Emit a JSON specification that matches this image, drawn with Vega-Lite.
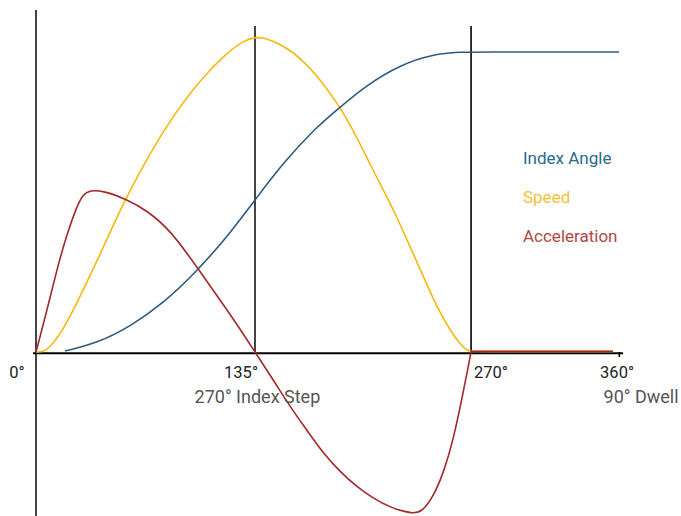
{
  "$schema": "https://vega.github.io/schema/vega-lite/v6.json",
  "width": 681,
  "height": 516,
  "autosize": "none",
  "padding": 0,
  "background": "white",
  "config": {"view": {"stroke": null}},
  "datasets": {
    "rules": [
      {"x": 0, "x2": 0, "y": 1.14, "y2": -0.5467, "c": "#444444", "w": 2},
      {"x": 135, "x2": 135, "y": 1.0867, "y2": 0, "c": "#444444", "w": 2},
      {"x": 268.2, "x2": 268.2, "y": 1.0867, "y2": 0, "c": "#000000", "w": 1.6},
      {"x": -1.85, "x2": 361.9, "y": -0.004, "y2": -0.004, "c": "#000000", "w": 2},
      {"x": 359.6, "x2": 359.6, "y": 0, "y2": -0.0167, "c": "#000000", "w": 1.6}
    ],
    "curves": [
      {"series": "Speed", "deg": 0, "v": 0},
      {"series": "Speed", "deg": 4.2, "v": 0.0},
      {"series": "Speed", "deg": 8.63, "v": 0.015},
      {"series": "Speed", "deg": 16.83, "v": 0.0733},
      {"series": "Speed", "deg": 27.12, "v": 0.1843},
      {"series": "Speed", "deg": 37.42, "v": 0.301},
      {"series": "Speed", "deg": 47.65, "v": 0.423},
      {"series": "Speed", "deg": 55.91, "v": 0.5177},
      {"series": "Speed", "deg": 70.28, "v": 0.6633},
      {"series": "Speed", "deg": 84.45, "v": 0.7867},
      {"series": "Speed", "deg": 101.1, "v": 0.9067},
      {"series": "Speed", "deg": 117.56, "v": 0.9967},
      {"series": "Speed", "deg": 128, "v": 1.038},
      {"series": "Speed", "deg": 135.0, "v": 1.0487},
      {"series": "Speed", "deg": 139.9, "v": 1.049},
      {"series": "Speed", "deg": 152.3, "v": 1.0233},
      {"series": "Speed", "deg": 164.6, "v": 0.9733},
      {"series": "Speed", "deg": 176.9, "v": 0.8967},
      {"series": "Speed", "deg": 187.4, "v": 0.8167},
      {"series": "Speed", "deg": 197.7, "v": 0.7177},
      {"series": "Speed", "deg": 207.7, "v": 0.6067},
      {"series": "Speed", "deg": 214.1, "v": 0.54},
      {"series": "Speed", "deg": 222.4, "v": 0.451},
      {"series": "Speed", "deg": 230.6, "v": 0.351},
      {"series": "Speed", "deg": 238.8, "v": 0.251},
      {"series": "Speed", "deg": 247.0, "v": 0.151},
      {"series": "Speed", "deg": 255.2, "v": 0.0733},
      {"series": "Speed", "deg": 261.4, "v": 0.026},
      {"series": "Speed", "deg": 266.0, "v": 0.004},
      {"series": "Speed", "deg": 268.2, "v": 0.002},
      {"series": "Speed", "deg": 268.21, "v": 0.002},
      {"series": "Speed", "deg": 355.7, "v": 0.002},
      {"series": "Index Angle", "deg": 17.88, "v": 0.0033},
      {"series": "Index Angle", "deg": 37.42, "v": 0.029},
      {"series": "Index Angle", "deg": 57.95, "v": 0.0843},
      {"series": "Index Angle", "deg": 78.47, "v": 0.1623},
      {"series": "Index Angle", "deg": 99.06, "v": 0.2677},
      {"series": "Index Angle", "deg": 119.59, "v": 0.3957},
      {"series": "Index Angle", "deg": 135.0, "v": 0.5067},
      {"series": "Index Angle", "deg": 152.26, "v": 0.63},
      {"series": "Index Angle", "deg": 173.04, "v": 0.751},
      {"series": "Index Angle", "deg": 187.4, "v": 0.8157},
      {"series": "Index Angle", "deg": 203.9, "v": 0.89},
      {"series": "Index Angle", "deg": 224.4, "v": 0.9567},
      {"series": "Index Angle", "deg": 244.7, "v": 0.9933},
      {"series": "Index Angle", "deg": 263.2, "v": 1.0},
      {"series": "Index Angle", "deg": 268.2, "v": 1.0},
      {"series": "Index Angle", "deg": 359.4, "v": 1.0},
      {"series": "Acceleration", "deg": 0, "v": 0},
      {"series": "Acceleration", "deg": 0.01, "v": 0},
      {"series": "Acceleration", "deg": 6.6, "v": 0.135},
      {"series": "Acceleration", "deg": 12.76, "v": 0.2733},
      {"series": "Acceleration", "deg": 18.93, "v": 0.39},
      {"series": "Acceleration", "deg": 25.09, "v": 0.4843},
      {"series": "Acceleration", "deg": 28.97, "v": 0.525},
      {"series": "Acceleration", "deg": 33.29, "v": 0.5393},
      {"series": "Acceleration", "deg": 41.49, "v": 0.5373},
      {"series": "Acceleration", "deg": 55.91, "v": 0.509},
      {"series": "Acceleration", "deg": 68.24, "v": 0.472},
      {"series": "Acceleration", "deg": 82.6, "v": 0.4077},
      {"series": "Acceleration", "deg": 99.06, "v": 0.2843},
      {"series": "Acceleration", "deg": 111.4, "v": 0.189},
      {"series": "Acceleration", "deg": 123.7, "v": 0.094},
      {"series": "Acceleration", "deg": 135.0, "v": 0},
      {"series": "Acceleration", "deg": 146.3, "v": -0.0933},
      {"series": "Acceleration", "deg": 156.6, "v": -0.1823},
      {"series": "Acceleration", "deg": 166.9, "v": -0.26},
      {"series": "Acceleration", "deg": 177.1, "v": -0.3377},
      {"series": "Acceleration", "deg": 187.4, "v": -0.399},
      {"series": "Acceleration", "deg": 197.7, "v": -0.449},
      {"series": "Acceleration", "deg": 207.9, "v": -0.4877},
      {"series": "Acceleration", "deg": 218.2, "v": -0.5187},
      {"series": "Acceleration", "deg": 232.6, "v": -0.5403},
      {"series": "Acceleration", "deg": 237.8, "v": -0.533},
      {"series": "Acceleration", "deg": 244.9, "v": -0.4823},
      {"series": "Acceleration", "deg": 251.1, "v": -0.4043},
      {"series": "Acceleration", "deg": 257.2, "v": -0.2933},
      {"series": "Acceleration", "deg": 262.4, "v": -0.16},
      {"series": "Acceleration", "deg": 266.5, "v": -0.049},
      {"series": "Acceleration", "deg": 268.19, "v": 0.002},
      {"series": "Acceleration", "deg": 268.2, "v": 0.002},
      {"series": "Acceleration", "deg": 268.21, "v": 0.002},
      {"series": "Acceleration", "deg": 355.7, "v": 0.002}
    ],
    "labels": [
      {"t": "0°", "x": -11.71, "y": -0.0867, "c": "#222222", "s": 16.5, "g": "tick"},
      {"t": "135°", "x": 126.4, "y": -0.0867, "c": "#222222", "s": 16.5, "g": "tick"},
      {"t": "270°", "x": 280.5, "y": -0.0867, "c": "#222222", "s": 16.5, "g": "tick"},
      {"t": "360°", "x": 358.2, "y": -0.0867, "c": "#222222", "s": 16.5, "g": "tick"},
      {"t": "270° Index Step", "x": 136.5, "y": -0.17, "c": "#555555", "s": 18, "g": "tick"},
      {"t": "90° Dwell", "x": 373.0, "y": -0.17, "c": "#555555", "s": 18, "g": "tick"},
      {"t": "Index Angle", "x": 300.2, "y": 0.625, "c": "#2a6a8c", "s": 17, "g": "legend"},
      {"t": "Speed", "x": 300.2, "y": 0.495, "c": "#f6c03a", "s": 17, "g": "legend"},
      {"t": "Acceleration", "x": 300.2, "y": 0.3667, "c": "#b04848", "s": 17, "g": "legend"}
    ]
  },
  "layer": [
    {
      "data": {"name": "rules"},
      "mark": {"type": "rule"},
      "encoding": {
        "x": {"field": "x", "type": "quantitative", "scale": {"domain": [-22.19, 397.61], "nice": false, "zero": false}, "axis": null},
        "x2": {"field": "x2"},
        "y": {"field": "y", "type": "quantitative", "scale": {"domain": [-0.5467, 1.1733], "nice": false, "zero": false}, "axis": null},
        "y2": {"field": "y2"},
        "color": {"field": "c", "type": "nominal", "scale": null, "legend": null},
        "strokeWidth": {"field": "w", "type": "quantitative", "scale": null, "legend": null}
      }
    },
    {
      "data": {"name": "curves"},
      "mark": {"type": "line", "strokeWidth": 1.6, "interpolate": "basis"},
      "encoding": {
        "x": {"field": "deg", "type": "quantitative", "scale": {"domain": [-22.19, 397.61], "nice": false, "zero": false}, "axis": null},
        "y": {"field": "v", "type": "quantitative", "scale": {"domain": [-0.5467, 1.1733], "nice": false, "zero": false}, "axis": null},
        "color": {"field": "series", "type": "nominal", "scale": {"domain": ["Speed", "Index Angle", "Acceleration"], "range": ["#f7b90f", "#2f5a80", "#a3292b"]}, "legend": null},
        "order": {"field": "deg", "type": "quantitative"}
      }
    },
    {
      "data": {"name": "labels"},
      "transform": [{"filter": "datum.g === 'tick'"}],
      "mark": {"type": "text", "align": "center", "baseline": "alphabetic", "font": "Roboto"},
      "encoding": {
        "x": {"field": "x", "type": "quantitative", "scale": {"domain": [-22.19, 397.61], "nice": false, "zero": false}, "axis": null},
        "y": {"field": "y", "type": "quantitative", "scale": {"domain": [-0.5467, 1.1733], "nice": false, "zero": false}, "axis": null},
        "text": {"field": "t"},
        "color": {"field": "c", "type": "nominal", "scale": null, "legend": null},
        "size": {"field": "s", "type": "quantitative", "scale": null, "legend": null}
      }
    },
    {
      "data": {"name": "labels"},
      "transform": [{"filter": "datum.g === 'legend'"}],
      "mark": {"type": "text", "align": "left", "baseline": "alphabetic", "font": "Roboto"},
      "encoding": {
        "x": {"field": "x", "type": "quantitative", "scale": {"domain": [-22.19, 397.61], "nice": false, "zero": false}, "axis": null},
        "y": {"field": "y", "type": "quantitative", "scale": {"domain": [-0.5467, 1.1733], "nice": false, "zero": false}, "axis": null},
        "text": {"field": "t"},
        "color": {"field": "c", "type": "nominal", "scale": null, "legend": null},
        "size": {"field": "s", "type": "quantitative", "scale": null, "legend": null}
      }
    }
  ]
}
